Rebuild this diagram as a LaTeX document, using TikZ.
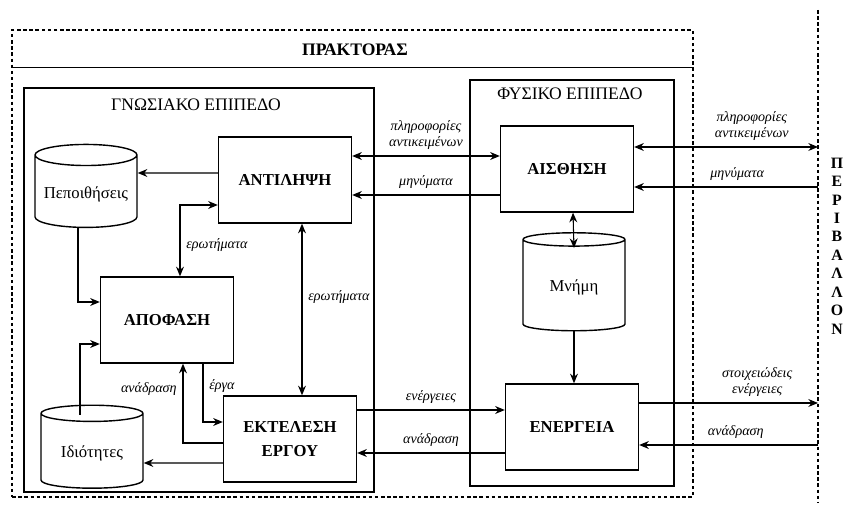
\documentclass[tikz,border=0pt]{standalone}
\usepackage{fontspec}
\setmainfont{Liberation Serif}
\usetikzlibrary{shapes.geometric, arrows.meta, calc}

\begin{document}
\begin{tikzpicture}[
  x=0.02cm, y=-0.02cm,
  box/.style={rectangle, draw, thick, minimum height=1.72cm, minimum width=2.66cm, text centered, font=\fontsize{9.5}{11}\selectfont\bfseries},
  store/.style={cylinder, shape border rotate=90, draw, thick, aspect=0.22, minimum height=1.66cm, minimum width=2.04cm, font=\fontsize{9.5}{11}\selectfont},
  levelbox/.style={rectangle, draw, thick, inner sep=0pt},
  laytitle/.style={font=\fontsize{10}{12}\selectfont},
  arrow/.style={-{Stealth[length=5.5pt,width=4.5pt]}, semithick},
  biarrow/.style={{Stealth[length=5.5pt,width=4.5pt]}-{Stealth[length=5.5pt,width=4.5pt]}, semithick},
  lab/.style={font=\fontsize{8}{9}\selectfont\itshape, align=center},
  dashline/.style={dash pattern=on 2pt off 1.5pt, thick}
]
\useasboundingbox (0,0) rectangle (846,509);

% Agent frame
\node[dashline, draw, minimum width=13.62cm, minimum height=9.34cm, inner sep=0pt] (agent) at (352.5,263.5) {};
\node[font=\fontsize{10}{12}\selectfont\bfseries] (agenttitle) at (355,50) {ΠΡΑΚΤΟΡΑΣ};
\draw[thick] ($(agent.north west)+(0,38)$) -- ($(agent.north east)+(0,38)$);

% Cognitive level
\node[levelbox, minimum width=7cm, minimum height=8.08cm] (cog) at (199,290) {};
\node[laytitle] (cogtitle) at (196,105) {ΓΝΩΣΙΑΚΟ ΕΠΙΠΕΔΟ};

% Physical level
\node[levelbox, minimum width=4.08cm, minimum height=8.12cm] (phy) at (572,283) {};
\node[laytitle] (phytitle) at (570,94) {ΦΥΣΙΚΟ ΕΠΙΠΕΔΟ};

% Environment
\coordinate (envtop) at (818,10);
\coordinate (envbot) at (818,502);
\draw[dashline] (envtop) -- (envbot);
\node[font=\fontsize{9}{10.5}\selectfont\bfseries, align=center] (env) at (837,246) {Π\\Ε\\Ρ\\Ι\\Β\\Α\\Λ\\Λ\\Ο\\Ν};

% Modules
\node[box] (perc) at (285,180) {ΑΝΤΙΛΗΨΗ};
\node[box] (dec) at (167,320) {ΑΠΟΦΑΣΗ};
\node[box, align=center, font=\fontsize{9.5}{13.5}\selectfont\bfseries] (exe) at (290,439) {ΕΚΤΕΛΕΣΗ\\ΕΡΓΟΥ};
\node[box] (sen) at (567,169) {ΑΙΣΘΗΣΗ};
\node[box] (act) at (572,427) {ΕΝΕΡΓΕΙΑ};

% Stores
\node[store] (bel) at (86,194) {Πεποιθήσεις};
\node[store] (prop) at (92,453) {Ιδιότητες};
\node[store, minimum height=1.96cm] (mem) at (574,287) {Μνήμη};

% Arrows inside the cognitive level
\draw[arrow] ($(perc.west)+(0,-7)$) -- ($(bel.east)+(0,-21)$);
\draw[arrow] ($(bel.south)+(-8,0)$) |- ($(dec.west)+(0,-18)$);
\draw[biarrow] ($(dec.north)+(13,0)$) |- ($(perc.west)+(0,25)$) node[lab, pos=0.22, right] {ερωτήματα};
\draw[biarrow] ($(perc.south)+(17,0)$) -- ($(exe.north)+(12,0)$) node[lab, pos=0.43, right] {ερωτήματα};
\draw[arrow] ($(prop.north)+(-12,10)$) |- ($(dec.west)+(0,24)$);
\draw[arrow] ($(dec.south)+(36,0)$) |- ($(exe.west)+(0,-17)$) node[lab, pos=0.19, right] {έργα};
\draw[arrow] ($(exe.west)+(0,4)$) -| ($(dec.south)+(16,0)$) node[lab, pos=0.84, left] {ανάδραση};
\draw[arrow] ($(exe.west)+(0,24)$) -- ($(prop.east)+(0,10)$);

% Arrows between the levels
\draw[biarrow] ($(sen.west)+(0,-13)$) -- ($(perc.east)+(0,-24)$) node[lab, midway, above] {πληροφορίες\\αντικειμένων};
\draw[arrow] ($(sen.west)+(0,26)$) -- ($(perc.east)+(0,15)$) node[lab, midway, above] {μηνύματα};
\draw[arrow] ($(exe.east)+(0,-29)$) -- ($(act.west)+(0,-17)$) node[lab, midway, above] {ενέργειες};
\draw[arrow] ($(act.west)+(0,26)$) -- ($(exe.east)+(0,14)$) node[lab, midway, above] {ανάδραση};

% Arrows inside the physical level
\draw[biarrow] ($(sen.south)+(6,0)$) -- ($(mem.north)+(0,16)$);
\draw[arrow] (mem.south) -- (mem.south |- act.north);

% Arrows to the environment
\path ($(sen.east)+(0,-22)$) coordinate (s1)
      ($(sen.east)+(0,18)$) coordinate (s2)
      ($(act.east)+(0,-24)$) coordinate (a1)
      ($(act.east)+(0,18)$) coordinate (a2);
\draw[biarrow] (s1) -- (s1 -| envtop) node[lab, pos=0.64, above] {πληροφορίες\\αντικειμένων};
\draw[arrow] (s2 -| envtop) -- (s2) node[lab, pos=0.44, above] {μηνύματα};
\draw[arrow] (a1) -- (a1 -| envtop) node[lab, pos=0.66, above] {στοιχειώδεις\\ενέργειες};
\draw[arrow] (a2 -| envtop) -- (a2) node[lab, pos=0.46, above] {ανάδραση};
\end{tikzpicture}
\end{document}
